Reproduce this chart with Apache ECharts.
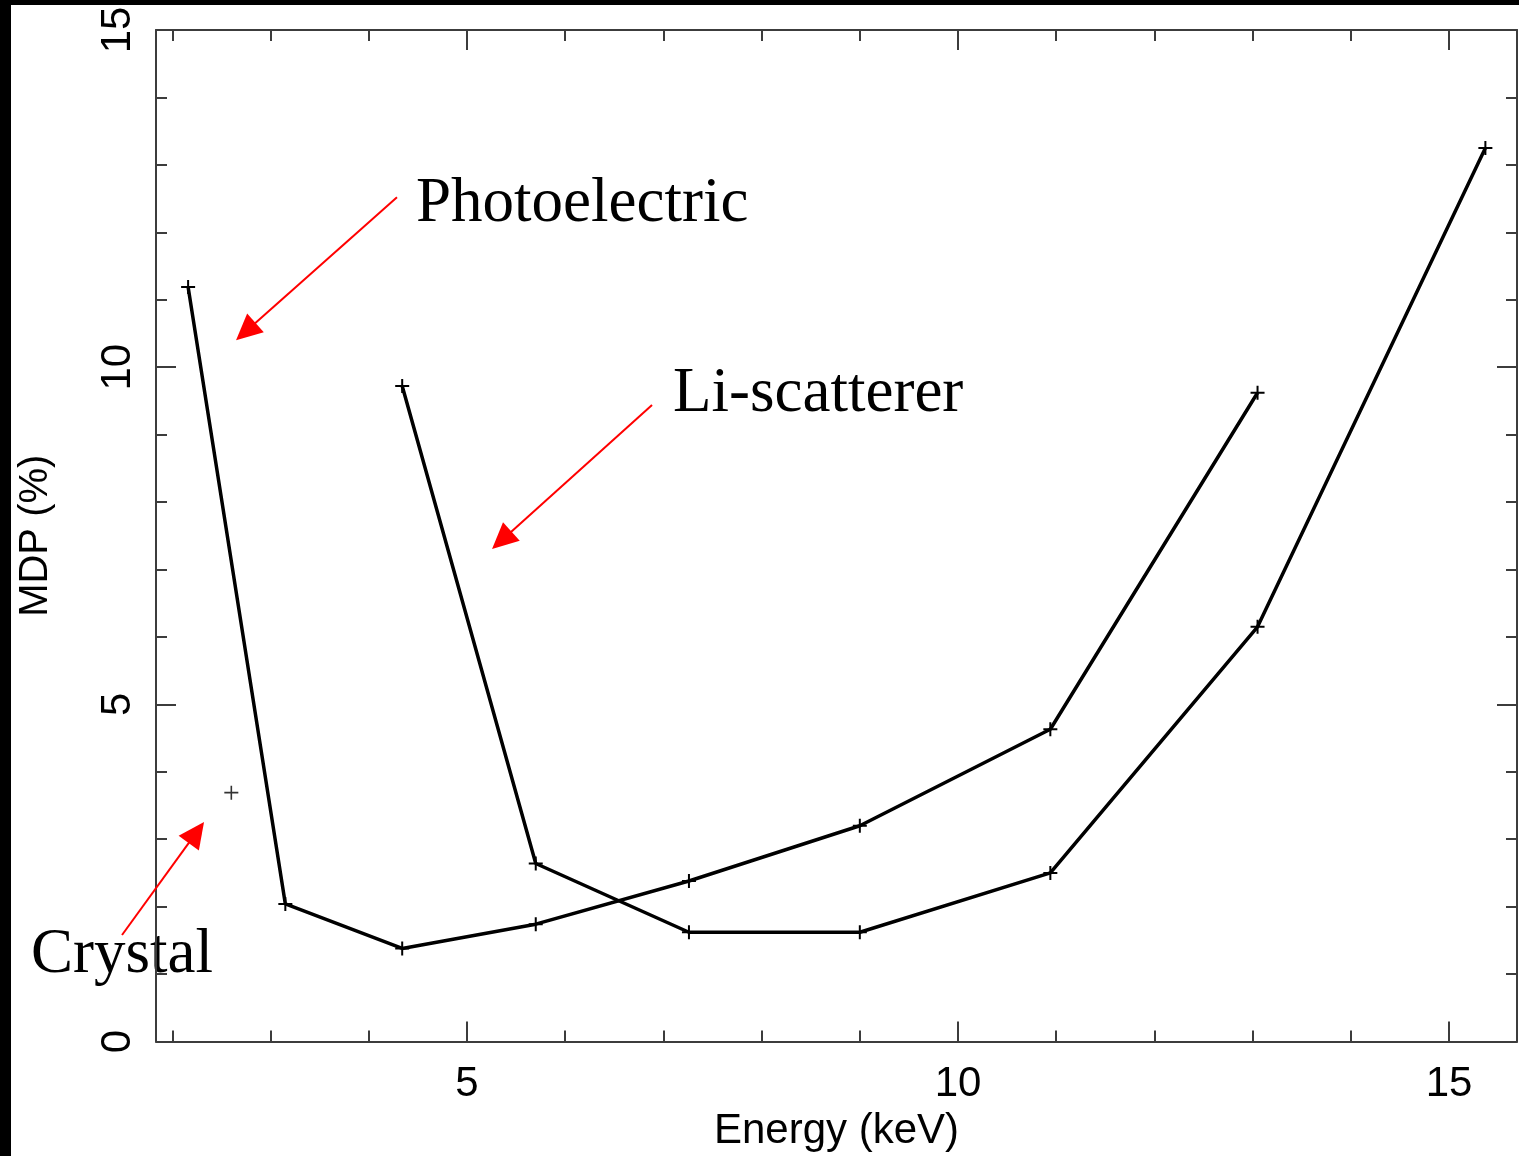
<!DOCTYPE html>
<html>
<head>
<meta charset="utf-8">
<title>MDP vs Energy</title>
<script src="https://cdn.jsdelivr.net/npm/echarts@6/dist/echarts.min.js"></script>
<style>
  html, body { margin: 0; padding: 0; background: #fff; }
  #wrap { position: relative; width: 1519px; height: 1156px; overflow: hidden; }
  #chart { width: 1519px; height: 1156px; }
  .edge { position: absolute; background: #000; z-index: 5; }
</style>
</head>
<body>
<div id="wrap">
  <div id="chart"></div>
  <div class="edge" style="left:0;top:0;width:11px;height:1156px"></div>
  <div class="edge" style="left:0;top:0;width:1519px;height:5px"></div>
</div>
<script>
// Photoelectric polarimeter curve
const energyPhoto = [2.16, 3.15, 4.34, 5.70, 7.26, 9.00, 10.94, 13.05];
const mdpPhoto    = [11.19, 2.04, 1.38, 1.74, 2.38, 3.20, 4.63, 9.62];

// Li-scatterer curve
const energyLi = [4.34, 5.70, 7.26, 9.00, 10.94, 13.05, 15.37];
const mdpLi    = [9.72, 2.64, 1.62, 1.62, 2.50, 6.15, 13.25];

// Single crystal point
const energyCrystal = [2.60];
const mdpCrystal    = [3.69];

// Axis range and tick positions
const xRange = [1.833, 15.692];
const yRange = [0, 15];
const xMajorTicks = [5, 10, 15];
const xMinorTicks = [2, 3, 4, 6, 7, 8, 9, 11, 12, 13, 14];
const yMajorTicks = [0, 5, 10, 15];
const yMinorTicks = [1, 2, 3, 4, 6, 7, 8, 9, 11, 12, 13, 14];

// Callout labels and arrows, in data units
const calloutNames  = ['Photoelectric', 'Li-scatterer', 'Crystal'];
const calloutText   = [[4.481, 12.42], [7.098, 9.59], [2.413, 1.27]];
const calloutAlign  = ['left', 'left', 'right'];
const calloutTail   = [[4.287, 12.52], [6.884, 9.439], [1.487, 1.579]];
const calloutTip    = [[2.648, 10.40], [5.255, 7.304], [2.322, 3.255]];

const pairs = (xs, ys) => xs.map((x, i) => [x, ys[i]]);

const frameColor = '#3c3c3c';
const labelFont = '"Liberation Sans", "DejaVu Sans", sans-serif';
const PLUS = 'path://M6,0V12M0,6H12';

function xAxisDef(position, ticks, len, withLine, withLabels) {
  return {
    type: 'value', position, min: xRange[0], max: xRange[1],
    axisLine: { show: withLine, onZero: false, lineStyle: { color: frameColor, width: 2 } },
    axisTick: { show: true, inside: true, length: len, customValues: ticks,
                lineStyle: { color: frameColor, width: 2 } },
    axisLabel: withLabels ? {
      show: true, customValues: xMajorTicks, margin: 22,
      fontFamily: labelFont, fontSize: 42, color: '#000'
    } : { show: false },
    splitLine: { show: false },
    name: withLabels ? 'Energy (keV)' : '',
    nameLocation: 'middle', nameGap: 69,
    nameTextStyle: { fontFamily: labelFont, fontSize: 42, color: '#000' }
  };
}

function yAxisDef(position, ticks, len, withLine, withLabels) {
  return {
    type: 'value', position, min: yRange[0], max: yRange[1],
    axisLine: { show: withLine, onZero: false, lineStyle: { color: frameColor, width: 2 } },
    axisTick: { show: true, inside: true, length: len, customValues: ticks,
                lineStyle: { color: frameColor, width: 2 } },
    axisLabel: withLabels ? {
      show: true, customValues: yMajorTicks, margin: 17, rotate: 90,
      fontFamily: labelFont, fontSize: 42, color: '#000'
    } : { show: false },
    splitLine: { show: false },
    name: withLabels ? 'MDP (%)' : '',
    nameLocation: 'middle', nameGap: 100,
    nameTextStyle: { fontFamily: labelFont, fontSize: 40, color: '#000' }
  };
}

const chart = echarts.init(document.getElementById('chart'), null, { renderer: 'canvas' });

const curveStyle = {
  type: 'line',
  symbol: PLUS, symbolSize: 14, showSymbol: true, showAllSymbol: true,
  lineStyle: { color: '#000', width: 3.5 },
  itemStyle: { color: 'none', borderColor: '#000', borderWidth: 2 },
  emphasis: { disabled: true },
  silent: true, animation: false, z: 3
};

chart.setOption({
  animation: false,
  backgroundColor: '#fff',
  grid: { left: 156, right: 2, top: 30, bottom: 114.5, containLabel: false, outerBoundsMode: 'none' },
  xAxis: [
    xAxisDef('bottom', xMajorTicks, 20, true, true),
    xAxisDef('bottom', xMinorTicks, 11, false, false),
    xAxisDef('top', xMajorTicks, 20, true, false),
    xAxisDef('top', xMinorTicks, 11, false, false)
  ],
  yAxis: [
    yAxisDef('left', yMajorTicks, 20, true, true),
    yAxisDef('left', yMinorTicks, 11, false, false),
    yAxisDef('right', yMajorTicks, 20, true, false),
    yAxisDef('right', yMinorTicks, 11, false, false)
  ],
  series: [
    Object.assign({ name: 'Photoelectric', data: pairs(energyPhoto, mdpPhoto) }, curveStyle),
    Object.assign({ name: 'Li-scatterer', data: pairs(energyLi, mdpLi) }, curveStyle),
    {
      name: 'Crystal', type: 'scatter', data: pairs(energyCrystal, mdpCrystal),
      symbol: PLUS, symbolSize: 14,
      itemStyle: { color: 'none', borderColor: '#000', borderWidth: 1.6 },
      silent: true, z: 3
    }
  ]
});

// Red callout arrows and their serif captions
const toPx = v => chart.convertToPixel({ seriesIndex: 0 }, v);
const graphics = [];
calloutNames.forEach((name, i) => {
  const p0 = toPx(calloutTail[i]);
  const p1 = toPx(calloutTip[i]);
  const dx = p1[0] - p0[0], dy = p1[1] - p0[1];
  const L = Math.hypot(dx, dy), ux = dx / L, uy = dy / L;
  const headLen = 26, headHalf = 12.5;
  const bx = p1[0] - ux * headLen, by = p1[1] - uy * headLen;
  graphics.push({
    type: 'line', silent: true, z: 10,
    shape: { x1: p0[0], y1: p0[1], x2: bx + ux * 2, y2: by + uy * 2 },
    style: { stroke: '#ff0000', lineWidth: 2 }
  });
  graphics.push({
    type: 'polygon', silent: true, z: 10,
    shape: { points: [p1, [bx - uy * headHalf, by + ux * headHalf], [bx + uy * headHalf, by - ux * headHalf]] },
    style: { fill: '#ff0000' }
  });
  const tp = toPx(calloutText[i]);
  graphics.push({
    type: 'text', silent: true, z: -1, x: tp[0], y: tp[1],
    style: {
      text: name, fontFamily: '"Liberation Serif", "Times New Roman", serif',
      fontSize: 63, fill: '#000', align: calloutAlign[i], verticalAlign: 'middle'
    }
  });
});
chart.setOption({ graphic: graphics });
</script>
</body>
</html>
